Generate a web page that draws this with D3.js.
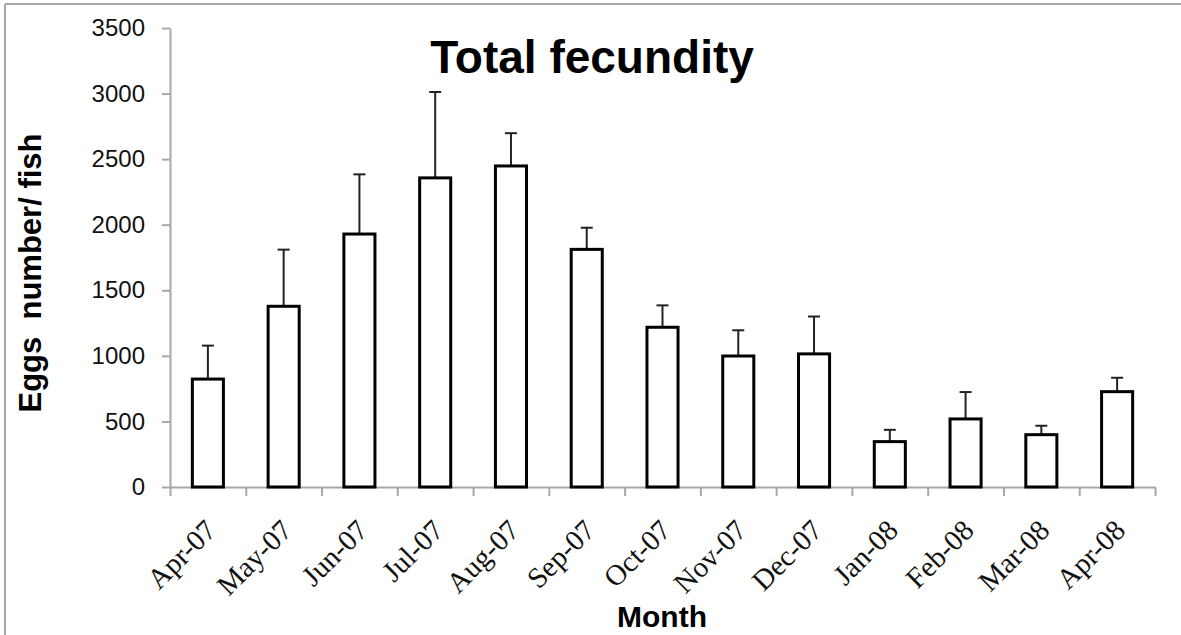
<!DOCTYPE html>
<html>
<head>
<meta charset="utf-8">
<script src="https://cdn.jsdelivr.net/npm/d3@7"></script>
<style>
    body { margin: 0; background: #fff; }
</style>
</head>
<body>
<div id="chart"></div>
<script>
// data
var months = ["Apr-07", "May-07", "Jun-07", "Jul-07", "Aug-07", "Sep-07", "Oct-07",
    "Nov-07", "Dec-07", "Jan-08", "Feb-08", "Mar-08", "Apr-08"];
var eggs = [823, 1378, 1929, 2357, 2448, 1812, 1218, 999, 1015, 346, 519, 399, 727];
var errUp = [255, 432, 455, 655, 250, 165, 167, 196, 285, 90, 205, 68, 106];
var yTicks = [0, 500, 1000, 1500, 2000, 2500, 3000, 3500];

var W = 1181, H = 635;
var mLeft = 170, mRight = 1155, mTop = 28, mBottom = 487;

var svg = d3.select("#chart")
    .append("svg")
    .attr("width", W)
    .attr("height", H);

// chart area border (top and left visible)
svg.append("line").attr("x1", 5).attr("x2", W).attr("y1", 4).attr("y2", 4)
    .attr("stroke", "#a8a8a8").attr("stroke-width", 2);
svg.append("line").attr("x1", 5).attr("x2", 5).attr("y1", 4).attr("y2", H)
    .attr("stroke", "#a8a8a8").attr("stroke-width", 2);

var x = d3.scaleBand()
    .domain(months)
    .range([mLeft, mRight])
    .paddingInner(0.59)
    .paddingOuter(0.295);

var y = d3.scaleLinear()
    .domain([0, 3500])
    .range([mBottom, mTop]);

// y axis
var yAxis = svg.append("g")
    .attr("transform", "translate(" + mLeft + ",0)")
    .call(d3.axisLeft(y).tickValues(yTicks).tickFormat(d3.format("d"))
        .tickSize(8).tickPadding(17).tickSizeOuter(0));
yAxis.selectAll("path, line").attr("stroke", "#a8a8a8").attr("stroke-width", 2);
yAxis.selectAll("text")
    .style("font-family", "'Liberation Sans', Arial, sans-serif")
    .style("font-size", "24px")
    .attr("fill", "#111");

// x axis, ticks at category boundaries
var xb = d3.scaleLinear().domain([0, months.length]).range([mLeft, mRight]);
var xAxis = svg.append("g")
    .attr("transform", "translate(0," + mBottom + ")")
    .call(d3.axisBottom(xb).tickValues(d3.range(months.length + 1)).tickFormat("").tickSize(9).tickSizeOuter(0));
xAxis.selectAll("path, line").attr("stroke", "#a8a8a8").attr("stroke-width", 2);

// error bars (upper only)
var err = svg.append("g");
err.selectAll("line.v")
    .data(months)
    .enter()
    .append("line")
    .attr("x1", d => x(d) + x.bandwidth() / 2)
    .attr("x2", d => x(d) + x.bandwidth() / 2)
    .attr("y1", (d, i) => y(eggs[i]))
    .attr("y2", (d, i) => y(eggs[i] + errUp[i]))
    .attr("stroke", "#222")
    .attr("stroke-width", 2);
err.selectAll("line.cap")
    .data(months)
    .enter()
    .append("line")
    .attr("x1", d => x(d) + x.bandwidth() / 2 - 6)
    .attr("x2", d => x(d) + x.bandwidth() / 2 + 6)
    .attr("y1", (d, i) => y(eggs[i] + errUp[i]))
    .attr("y2", (d, i) => y(eggs[i] + errUp[i]))
    .attr("stroke", "#222")
    .attr("stroke-width", 2);

// bars
svg.append("g")
    .selectAll("rect")
    .data(months)
    .enter()
    .append("rect")
    .attr("x", d => x(d))
    .attr("y", (d, i) => y(eggs[i]))
    .attr("width", x.bandwidth())
    .attr("height", (d, i) => y(0) - y(eggs[i]))
    .attr("fill", "#fff")
    .attr("stroke", "#000")
    .attr("stroke-width", 3);

// month labels
svg.append("g")
    .selectAll("text")
    .data(months)
    .enter()
    .append("text")
    .attr("transform", d => "translate(" + (x(d) + x.bandwidth() / 2 + 10) + "," + 532 + ") rotate(-45)")
    .attr("text-anchor", "end")
    .style("font-family", "'Liberation Serif', 'Times New Roman', serif")
    .style("font-size", "29px")
    .attr("fill", "#111")
    .text(d => d);

// titles
svg.append("text")
    .attr("x", 592)
    .attr("y", 73)
    .attr("text-anchor", "middle")
    .style("font-family", "'Liberation Sans', Arial, sans-serif")
    .style("font-weight", "bold")
    .style("font-size", "46px")
    .text("Total fecundity");

svg.append("text")
    .attr("x", 662)
    .attr("y", 627)
    .attr("text-anchor", "middle")
    .style("font-family", "'Liberation Sans', Arial, sans-serif")
    .style("font-weight", "bold")
    .style("font-size", "30px")
    .text("Month");

svg.append("text")
    .attr("transform", "translate(41,273) rotate(-90)")
    .attr("text-anchor", "middle")
    .style("font-family", "'Liberation Sans', Arial, sans-serif")
    .style("font-weight", "bold")
    .style("font-size", "31px")
    .style("white-space", "pre")
    .text("Eggs  number/ fish");
</script>
</body>
</html>
